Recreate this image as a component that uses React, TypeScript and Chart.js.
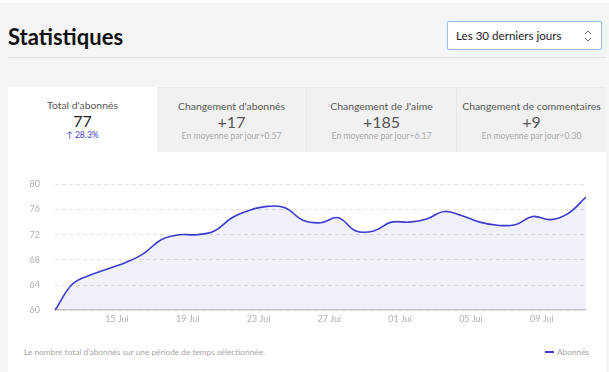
import React, { useEffect, useRef } from 'react';
import { Chart, registerables } from 'chart.js';

Chart.register(...registerables);

document.body.style.margin = '0';
document.body.style.background = '#f5f5f5';

const FONT = 'Lato, "Noto Sans", sans-serif';

// x values: day of June (noon of each day), 11 Jun → 11 Jul
const days = [
  11.5, 12.5, 13.5, 14.5, 15.5, 16.5, 17.5, 18.5, 19.5, 20.5, 21.5,
  22.5, 23.5, 24.5, 25.5, 26.5, 27.5, 28.5, 29.5, 30.5, 31.5, 32.5,
  33.5, 34.5, 35.5, 36.5, 37.5, 38.5, 39.5, 40.5, 41.5,
];
const subscribers = [
  60, 64.2, 65.6, 66.6, 67.6, 69.0, 71.2, 72, 72, 72.6, 74.7,
  75.9, 76.5, 76.3, 74.3, 73.9, 74.7, 72.6, 72.6, 74.0, 74.0, 74.5,
  75.7, 75.0, 74.0, 73.5, 73.6, 74.9, 74.4, 75.4, 78,
];
const tickDays = [15, 19, 23, 27, 31, 35, 39];
const tickLabels = ['15 Jui', '19 Jui', '23 Jui', '27 Jui', '01 Jui', '05 Jui', '09 Jui'];
const yMin = 60;
const yMax = 80;
const yStep = 4;
const seriesName = 'Abonnés';

const tabLabels = ["Total d'abonnés", "Changement d'abonnés", "Changement de J'aime", 'Changement de commentaires'];
const tabValues = ['77', '+17', '+185', '+9'];
const tabNotes = ['↑ 28.3%', 'En moyenne par jour+0.57', 'En moyenne par jour+6.17', 'En moyenne par jour+0.30'];

const LINE = '#3b3bcc';

function StatsChart() {
  const ref = useRef<HTMLCanvasElement | null>(null);
  useEffect(() => {
    if (!ref.current) return;
    const chart = new Chart(ref.current, {
      type: 'line',
      data: {
        datasets: [
          {
            label: seriesName,
            data: days.map((d, i) => ({ x: d, y: subscribers[i] })),
            borderColor: LINE,
            borderWidth: 1.6,
            backgroundColor: 'rgba(59,59,204,0.075)',
            fill: 'start',
            tension: 0.4,
            pointRadius: 0,
          },
        ],
      },
      options: {
        animation: false,
        responsive: false,
        maintainAspectRatio: false,
        layout: { padding: { top: 7, right: 20, bottom: 6, left: 0 } },
        plugins: { legend: { display: false }, tooltip: { enabled: false } },
        scales: {
          x: {
            type: 'linear',
            min: days[0],
            max: days[days.length - 1],
            afterBuildTicks: (scale: any) => {
              scale.ticks = tickDays.map((v) => ({ value: v }));
            },
            grid: { display: false, drawTicks: false },
            border: { display: true, color: '#cfcfcf', width: 1.5 },
            ticks: {
              autoSkip: false,
              maxRotation: 0,
              padding: 3,
              color: '#b0b0b0',
              font: { family: FONT, size: 9 },
              callback: (_v: any, i: number) => tickLabels[i],
            },
          },
          y: {
            min: yMin,
            max: yMax,
            afterFit: (scale: any) => {
              scale.width = 47;
            },
            grid: { color: '#e4e4e4', drawTicks: false, lineWidth: 1 },
            border: { display: false, dash: [4, 3] },
            ticks: {
              stepSize: yStep,
              padding: 15,
              color: '#b0b0b0',
              font: { family: FONT, size: 9 },
            },
          },
        },
      },
    });
    return () => chart.destroy();
  }, []);
  return <canvas ref={ref} width={598} height={169} style={{ position: 'absolute', left: 8, top: 164, width: 598, height: 169 }} />;
}

export default function App() {
  return (
    <div style={{ position: 'relative', width: 609, height: 372, background: '#f5f5f5', overflow: 'hidden', fontFamily: FONT }}>
      <div style={{ position: 'absolute', left: 0, top: 0, width: 609, height: 3, background: '#fbfbfb' }} />
      <div style={{ position: 'absolute', left: 8, top: 24, fontSize: 22, fontWeight: 700, color: '#111', lineHeight: '26px' }}>Statistiques</div>
      <div
        style={{
          position: 'absolute', left: 447, top: 21, width: 153, height: 27, background: '#fff',
          border: '1px solid #9ec2ef', boxShadow: '0 0 2px #c4dbf6', borderRadius: 2,
        }}
      >
        <div style={{ position: 'absolute', left: 8, top: 0, lineHeight: '27px', fontSize: 11.6, color: '#222' }}>Les 30 derniers jours</div>
        <svg width="10" height="14" viewBox="0 0 10 14" style={{ position: 'absolute', right: 8, top: 7 }}>
          <polyline points="2,5 5,2 8,5" fill="none" stroke="#666" strokeWidth="1" />
          <polyline points="2,9 5,12 8,9" fill="none" stroke="#666" strokeWidth="1" />
        </svg>
      </div>
      <div style={{ position: 'absolute', left: 8, top: 57, width: 598, height: 1, background: '#e6e6e6' }} />
      <div style={{ position: 'absolute', left: 8, top: 87, width: 598, height: 65, display: 'flex' }}>
        {tabLabels.map((label, i) => (
          <div
            key={label}
            style={{
              flex: 1, position: 'relative', background: i === 0 ? '#fff' : '#f1f1f1',
              borderLeft: i > 1 ? '1px solid #e6e6e6' : 'none', borderTop: i === 0 ? 'none' : '1px solid #ebebeb',
              textAlign: 'center',
            }}
          >
            <div style={{ position: 'absolute', left: 0, right: 0, top: 11, fontSize: 10.4, color: '#5a5a5a', lineHeight: '14px', whiteSpace: 'nowrap' }}>{label}</div>
            <div style={{ position: 'absolute', left: 0, right: 0, top: 25, fontSize: 16, color: i === 0 ? '#222' : '#555', lineHeight: '18px' }}>{tabValues[i]}</div>
            <div style={{ position: 'absolute', left: 0, right: 0, top: 43, fontSize: 8.6, color: i === 0 ? '#3b3bcc' : '#aaa', lineHeight: '11px', whiteSpace: 'nowrap' }}>{tabNotes[i]}</div>
          </div>
        ))}
      </div>
      <div style={{ position: 'absolute', left: 8, top: 152, width: 598, height: 230, background: '#fff' }} />
      <StatsChart />
      <div style={{ position: 'absolute', left: 24, top: 346, fontSize: 8.3, color: '#a6a6a6', lineHeight: '12px', whiteSpace: 'nowrap' }}>
        Le nombre total d'abonnés sur une période de temps sélectionnée.
      </div>
      <div style={{ position: 'absolute', left: 545, top: 351, width: 9, height: 2, background: LINE }} />
      <div style={{ position: 'absolute', left: 557, top: 346, fontSize: 8.3, color: '#a6a6a6', lineHeight: '12px' }}>{seriesName}</div>
    </div>
  );
}
